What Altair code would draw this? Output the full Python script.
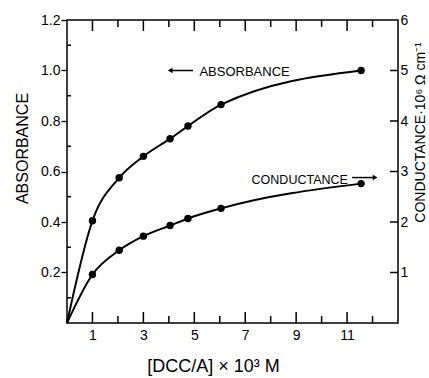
import altair as alt
import pandas as pd

# values
conc = [1.0, 2.05, 3.0, 4.05, 4.75, 6.05, 11.55]          # [DCC/A] x 10^3 M
absorbance = [0.405, 0.575, 0.66, 0.73, 0.78, 0.865, 1.0]
conductance = [0.96, 1.44, 1.72, 1.93, 2.07, 2.27, 2.76]   # 10^6 ohm cm

x_major = [1, 3, 5, 7, 9, 11]
x_minor = [2, 4, 6, 8, 10, 12]
abs_major = [0.2, 0.4, 0.6, 0.8, 1.0, 1.2]
abs_minor = [0.1, 0.3, 0.5, 0.7, 0.9, 1.1]
cond_ticks = [1, 2, 3, 4, 5, 6]

FONT = "Liberation Sans"
W, H = 331, 303

pts = pd.DataFrame({"x": conc, "a": absorbance, "c": conductance})
curve = pd.DataFrame({"x": [0.0] + conc, "a": [0.0] + absorbance, "c": [0.0] + conductance})

x_enc = alt.X(
    "x:Q",
    scale=alt.Scale(domain=[0, 13], nice=False, zero=False),
    axis=alt.Axis(
        values=x_major,
        title="[DCC/A] × 10³ M",
        titleX=146, titleY=43, titleBaseline="middle", titleAlign="center",
        titleFontSize=18,
        labelPadding=5,
        ticks=False, domain=False, grid=False,
    ),
)

y_abs = alt.Y(
    "a:Q",
    scale=alt.Scale(domain=[0, 1.2], nice=False, zero=False),
    axis=alt.Axis(
        values=abs_major, format=".1f",
        title="ABSORBANCE",
        titleX=-45, titleY=128, titleAngle=270, titleBaseline="middle", titleAlign="center",
        titleFontSize=16,
        labelPadding=1,
        tickColor="black", tickWidth=1.3, tickSize=6,
        domain=False, grid=False,
    ),
)

y_cond = alt.Y(
    "c:Q",
    scale=alt.Scale(domain=[0, 6], nice=False, zero=False),
    axis=alt.Axis(
        orient="right",
        values=cond_ticks,
        title="CONDUCTANCE·10⁶ Ω cm⁻¹",
        titleX=22, titleY=112, titleAngle=270, titleBaseline="middle", titleAlign="center",
        titleFontSize=14,
        labelPadding=2,
        ticks=False, domain=False, grid=False,
    ),
)

# inward tick marks along the frame, drawn as tick marks
xmaj = pd.DataFrame({"x": x_major})
xmin = pd.DataFrame({"x": x_minor})
bot_major = alt.Chart(xmaj).mark_tick(color="black", thickness=1.5, size=11, opacity=1).encode(
    x=x_enc, y=alt.value(H - 5.5))
bot_minor = alt.Chart(xmin).mark_tick(color="black", thickness=1.5, size=7, opacity=1).encode(
    x=x_enc, y=alt.value(H - 3.5))
top_major = alt.Chart(xmaj).mark_tick(color="black", thickness=1.5, size=11, opacity=1).encode(
    x=x_enc, y=alt.value(5.5))
top_minor = alt.Chart(xmin).mark_tick(color="black", thickness=1.5, size=7, opacity=1).encode(
    x=x_enc, y=alt.value(3.5))
left_minor = alt.Chart(pd.DataFrame({"a": abs_minor})).mark_tick(
    color="black", thickness=1.5, size=4, opacity=1).encode(y=y_abs, x=alt.value(2))
right_ticks = alt.Chart(pd.DataFrame({"c": cond_ticks[:-1]})).mark_tick(
    color="black", thickness=1.5, size=8, opacity=1).encode(y=y_cond, x=alt.value(W - 4))

# absorbance layers
abs_line = alt.Chart(curve).mark_line(interpolate="monotone", color="black", strokeWidth=2).encode(x=x_enc, y=y_abs)
abs_pts = alt.Chart(pts).mark_circle(color="black", size=55, opacity=1).encode(x=x_enc, y=y_abs)
abs_lab = alt.Chart(pd.DataFrame({"x": [5.2], "a": [0.995], "t": ["ABSORBANCE"]})).mark_text(
    align="left", baseline="middle", font=FONT, fontSize=13, color="black"
).encode(x=x_enc, y=y_abs, text="t:N")
abs_arrow = alt.Chart(pd.DataFrame({"x": [4.05], "x2": [4.95], "a": [1.0]})).mark_rule(
    color="black", strokeWidth=1.5
).encode(x=x_enc, x2="x2:Q", y=y_abs)
abs_head = alt.Chart(pd.DataFrame({"x": [4.05], "a": [1.0]})).mark_point(
    shape="triangle-left", filled=True, color="black", size=30, opacity=1
).encode(x=x_enc, y=y_abs)

# conductance layers
cond_line = alt.Chart(curve).mark_line(interpolate="monotone", color="black", strokeWidth=2).encode(x=x_enc, y=y_cond)
cond_pts = alt.Chart(pts).mark_circle(color="black", size=55, opacity=1).encode(x=x_enc, y=y_cond)
cond_lab = alt.Chart(pd.DataFrame({"x": [7.25], "c": [2.84], "t": ["CONDUCTANCE"]})).mark_text(
    align="left", baseline="middle", font=FONT, fontSize=12.5, color="black"
).encode(x=x_enc, y=y_cond, text="t:N")
cond_arrow = alt.Chart(pd.DataFrame({"x": [11.2], "x2": [12.1], "c": [2.88]})).mark_rule(
    color="black", strokeWidth=1.5
).encode(x=x_enc, x2="x2:Q", y=y_cond)
cond_head = alt.Chart(pd.DataFrame({"x": [12.1], "c": [2.88]})).mark_point(
    shape="triangle-right", filled=True, color="black", size=30, opacity=1
).encode(x=x_enc, y=y_cond)

abs_layer = alt.layer(bot_major, bot_minor, top_major, top_minor, left_minor,
                      abs_line, abs_pts, abs_lab, abs_arrow, abs_head)
cond_layer = alt.layer(right_ticks, cond_line, cond_pts, cond_lab, cond_arrow, cond_head)

chart = (
    alt.layer(abs_layer, cond_layer)
    .resolve_scale(y="independent")
    .properties(
        width=W, height=H,
        padding={"left": 67, "top": 20, "right": 31, "bottom": 55},
        autosize=alt.AutoSizeParams(type="none"),
        background="white",
    )
    .configure_view(stroke="black", strokeWidth=1.5)
    .configure_axis(
        labelFont=FONT, labelFontSize=14, labelColor="black",
        titleFont=FONT, titleFontWeight="normal", titleColor="black",
    )
)

chart.save("out.html", embed_options={"renderer": "svg", "actions": False})
